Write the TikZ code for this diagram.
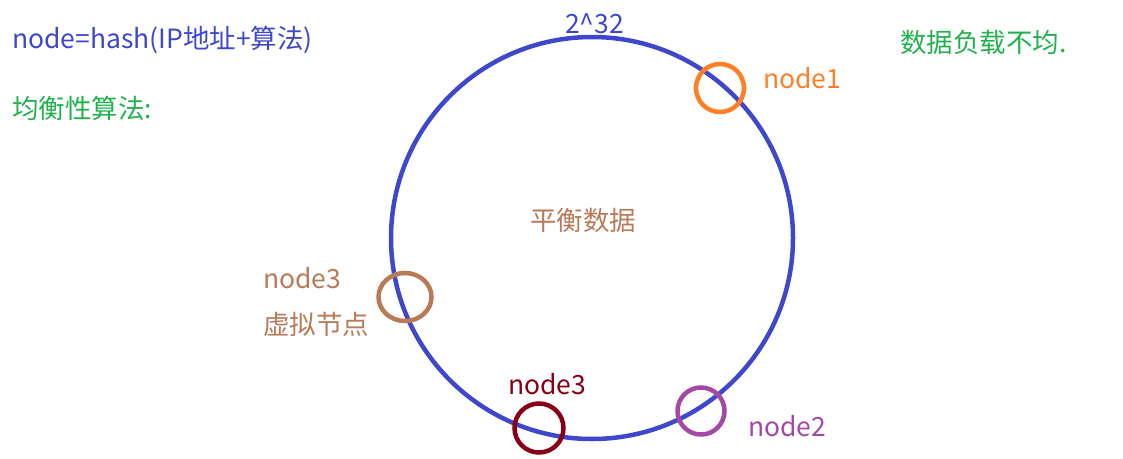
\documentclass[tikz,border=0pt]{standalone}
\usepackage{fontspec}
\setmainfont{Noto Sans CJK SC}
\usetikzlibrary{shapes.geometric}
\definecolor{ringblue}{HTML}{3F48CC}
\definecolor{nodeorange}{HTML}{FF7F27}
\definecolor{notegreen}{HTML}{22B14C}
\definecolor{virtbrown}{HTML}{B97A57}
\definecolor{nodered}{HTML}{880015}
\definecolor{nodepurple}{HTML}{A349A4}
\tikzset{
  lbl/.style={anchor=west,inner sep=0pt,font=\fontsize{26.5}{30}\selectfont},
  ringmark/.style={draw,line width=4.5pt,circle,inner sep=0pt,minimum size=#1},
}
\begin{document}
\begin{tikzpicture}[x=1pt,y=-1pt]
			\useasboundingbox (0,0) rectangle (1123,458);
			
			\node (R) at (592,238) [circle,draw=ringblue,line width=4.5pt,minimum size=402pt,inner sep=0pt] {};
			
			\node (N1) at (720,88) [ringmark=48pt,nodeorange] {};
			\node (N2) at (701,411) [ringmark=47pt,nodepurple] {};
			\node (N3) at (539,428) [ringmark=49pt,nodered] {};
			\node (V3) at (405,297) [draw,line width=4.5pt,virtbrown,ellipse,inner sep=0pt,minimum width=53pt,minimum height=48pt] {};
			
			\node (T1) at (12,40) [lbl,ringblue] {node=hash(IP地址+算法)};
			\node (T2) at (12,108) [lbl,notegreen] {均衡性算法:};
			\node (T3) at (565,24) [lbl,ringblue] {2\^{}32};
			\node (T4) at (900,42) [lbl,notegreen] {数据负载不均.};
			\node (L1) at (763,78) [lbl,nodeorange] {node1};
			\node (T5) at (530,220) [lbl,virtbrown] {平衡数据};
			\node (L3) at (263,278) [lbl,virtbrown] {node3};
			\node (L4) at (263,324) [lbl,virtbrown] {虚拟节点};
			\node (L5) at (508,384) [lbl,nodered] {node3};
			\node (L2) at (748,426) [lbl,nodepurple] {node2};
			
			%\draw[-,ringblue] (R) to (N1);
\end{tikzpicture}
\end{document}
